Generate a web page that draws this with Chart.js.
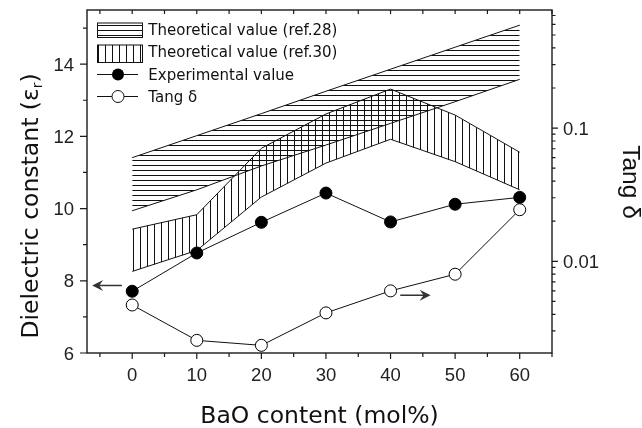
<!DOCTYPE html>
<html>
<head>
<meta charset="utf-8">
<script src="https://cdn.jsdelivr.net/npm/chart.js@4"></script>
<style>
    body { margin: 0; background: #fff; }
    #wrap { width: 642px; height: 428px; }
</style>
</head>
<body>
<div id="wrap"><canvas id="dielectricChart" width="642" height="428"></canvas></div>
<script>
// Chart data
const baoContent = [0, 10, 20, 30, 40, 50, 60];
const experimental = [7.71, 8.77, 9.62, 10.43, 9.63, 10.12, 10.31];
const tangDelta = [0.0047, 0.00255, 0.00234, 0.0041, 0.0060, 0.0080, 0.0244];
const ref28Lower = [9.94, 10.52, 11.18, 11.76, 12.36, 12.96, 13.58];
const ref28Upper = [11.41, 12.02, 12.63, 13.25, 13.86, 14.47, 15.08];
const ref30Lower = [8.26, 8.84, 10.32, 11.26, 11.92, 11.30, 10.52];
const ref30Upper = [9.43, 9.83, 11.67, 12.62, 13.31, 12.59, 11.56];

const xTickLabels = [0, 10, 20, 30, 40, 50, 60];
const leftTickLabels = [6, 8, 10, 12, 14];
const rightTickLabels = ['0.01', '0.1'];

const legendLabels = [
    'Theoretical value (ref.28)',
    'Theoretical value (ref.30)',
    'Experimental value',
    'Tang \u03B4'
];

const pts = arr => baoContent.map((x, i) => ({ x: x, y: arr[i] }));

// hatch patterns
function makeHatch(vertical) {
    const c = document.createElement('canvas');
    c.width = vertical ? 7 : 8;
    c.height = vertical ? 8 : 5;
    const g = c.getContext('2d');
    g.strokeStyle = '#111';
    g.lineWidth = 1;
    g.beginPath();
    if (vertical) {
        g.moveTo(0.5, 0); g.lineTo(0.5, c.height);
    } else {
        g.moveTo(0, 0.5); g.lineTo(c.width, 0.5);
    }
    g.stroke();
    return g.createPattern(c, 'repeat');
}
const hHatch = makeHatch(false);
const vHatch = makeHatch(true);

const SANS = '"DejaVu Sans", sans-serif';
const ARIAL = '"Liberation Sans", Arial, sans-serif';

function arrow(ctx, x1, y1, x2, y2) {
    const dir = Math.sign(x2 - x1);
    ctx.beginPath();
    ctx.moveTo(x1, y1);
    ctx.lineTo(x2 - dir * 4, y2);
    ctx.stroke();
    ctx.beginPath();
    ctx.moveTo(x2, y2);
    ctx.lineTo(x2 - dir * 11, y2 - 5.5);
    ctx.lineTo(x2 - dir * 7, y2);
    ctx.lineTo(x2 - dir * 11, y2 + 5.5);
    ctx.closePath();
    ctx.fill();
}

// axes, ticks, titles, legend
const decorations = {
    id: 'decorations',
    afterDraw(chart) {
        const { ctx, chartArea: a, scales } = chart;
        const x = scales.x, y = scales.y, y2 = scales.y2;
        ctx.save();
        ctx.strokeStyle = '#1a1a1a';
        ctx.fillStyle = '#1a1a1a';
        ctx.lineWidth = 1.4;
        ctx.strokeRect(a.left, a.top, a.right - a.left, a.bottom - a.top);

        ctx.lineWidth = 1.2;
        ctx.beginPath();
        // x ticks (bottom outward, top inward)
        for (let v = -5; v <= 65; v += 5) {
            const px = x.getPixelForValue(v);
            const len = v % 10 === 0 ? 6 : 4;
            ctx.moveTo(px, a.bottom); ctx.lineTo(px, a.bottom + len);
            ctx.moveTo(px, a.top); ctx.lineTo(px, a.top + 4);
        }
        // left ticks
        for (let v = 6; v <= 15; v++) {
            const py = y.getPixelForValue(v);
            const len = v % 2 === 0 ? 7 : 4;
            ctx.moveTo(a.left, py); ctx.lineTo(a.left - len, py);
        }
        // right log ticks
        for (let e = -3; e <= -1; e++) {
            for (let m = 1; m <= 9; m++) {
                const v = m * Math.pow(10, e);
                if (v < y2.min || v > y2.max) continue;
                const py = y2.getPixelForValue(v);
                const len = m === 1 ? 6 : 3.5;
                ctx.moveTo(a.right, py); ctx.lineTo(a.right + len, py);
            }
        }
        ctx.stroke();

        // tick labels
        ctx.fillStyle = '#222';
        ctx.font = '18.5px ' + ARIAL;
        ctx.textBaseline = 'alphabetic';
        ctx.textAlign = 'center';
        xTickLabels.forEach(v => ctx.fillText(String(v), x.getPixelForValue(v), a.bottom + 27.5));
        ctx.textAlign = 'right';
        leftTickLabels.forEach(v => ctx.fillText(String(v), a.left - 13, y.getPixelForValue(v) + 6.6));
        ctx.textAlign = 'left';
        rightTickLabels.forEach(t => ctx.fillText(t, a.right + 11, y2.getPixelForValue(parseFloat(t)) + 6.6));

        // axis titles
        ctx.fillStyle = '#111';
        ctx.font = '23.5px ' + SANS;
        ctx.textAlign = 'center';
        ctx.fillText('BaO content (mol%)', (a.left + a.right) / 2, 423.3);

        // left title with subscript
        ctx.save();
        ctx.translate(37.7, 206);
        ctx.rotate(-Math.PI / 2);
        const main = 'Dielectric constant (\u03B5';
        const subFont = '14px ' + SANS;
        const mainW = ctx.measureText(main).width;
        ctx.font = subFont;
        const subW = ctx.measureText('r').width;
        ctx.font = '23.5px ' + SANS;
        const closeW = ctx.measureText(')').width;
        let sx = -(mainW + subW + closeW) / 2;
        ctx.textAlign = 'left';
        ctx.fillText(main, sx, 0);
        sx += mainW;
        ctx.font = subFont;
        ctx.fillText('r', sx, 4);
        sx += subW;
        ctx.font = '23.5px ' + SANS;
        ctx.fillText(')', sx, 0);
        ctx.restore();

        // right title
        ctx.save();
        ctx.translate(622.5, 182);
        ctx.rotate(Math.PI / 2);
        ctx.font = '24.5px ' + ARIAL;
        ctx.textAlign = 'center';
        ctx.fillText('Tang \u03B4', 0, 0);
        ctx.restore();

        // arrows pointing to the axes
        ctx.strokeStyle = '#333';
        ctx.fillStyle = '#333';
        ctx.lineWidth = 1.5;
        arrow(ctx, x.getPixelForValue(-1.6), y.getPixelForValue(7.87), x.getPixelForValue(-6.2), y.getPixelForValue(7.87));
        arrow(ctx, x.getPixelForValue(41.5), y.getPixelForValue(7.6), x.getPixelForValue(46.2), y.getPixelForValue(7.6));

        // legend
        ctx.lineWidth = 1;
        ctx.strokeStyle = '#111';
        ctx.fillStyle = hHatch;
        ctx.fillRect(97.5, 23, 45, 14.5);
        ctx.strokeRect(97.5, 23, 45, 14.5);
        ctx.fillStyle = vHatch;
        ctx.fillRect(97.5, 45, 45, 17.5);
        ctx.strokeRect(97.5, 45, 45, 17.5);

        ctx.beginPath();
        ctx.moveTo(97, 74.5); ctx.lineTo(138, 74.5);
        ctx.moveTo(97, 96.5); ctx.lineTo(138, 96.5);
        ctx.stroke();
        ctx.fillStyle = '#000';
        ctx.beginPath(); ctx.arc(118, 74.5, 6, 0, Math.PI * 2); ctx.fill();
        ctx.fillStyle = '#fff';
        ctx.beginPath(); ctx.arc(118, 96.5, 6, 0, Math.PI * 2); ctx.fill(); ctx.stroke();

        ctx.fillStyle = '#111';
        ctx.font = '15px ' + SANS;
        ctx.textAlign = 'left';
        const baselines = [35, 56.7, 80, 101.7];
        legendLabels.forEach((t, i) => ctx.fillText(t, 148.3, baselines[i]));
        ctx.restore();
    }
};

const bandLine = {
    borderColor: '#111',
    borderWidth: 1,
    pointRadius: 0,
    tension: 0,
    yAxisID: 'y',
    order: 5
};

new Chart(document.getElementById('dielectricChart'), {
    type: 'line',
    data: {
        datasets: [
            { ...bandLine, data: pts(ref28Lower), fill: false },
            { ...bandLine, data: pts(ref28Upper), fill: '-1', backgroundColor: hHatch },
            { ...bandLine, data: pts(ref30Lower), fill: false },
            { ...bandLine, data: pts(ref30Upper), fill: '-1', backgroundColor: vHatch },
            {
                data: pts(experimental),
                yAxisID: 'y',
                borderColor: '#111',
                borderWidth: 1,
                pointRadius: 6,
                pointBackgroundColor: '#000',
                pointBorderColor: '#000',
                pointBorderWidth: 1,
                tension: 0,
                fill: false,
                order: 2
            },
            {
                data: pts(tangDelta),
                yAxisID: 'y2',
                borderColor: '#111',
                borderWidth: 1,
                pointRadius: 6,
                pointBackgroundColor: '#fff',
                pointBorderColor: '#000',
                pointBorderWidth: 1,
                tension: 0,
                fill: false,
                order: 1
            }
        ]
    },
    options: {
        responsive: false,
        animation: false,
        events: [],
        layout: { padding: { left: 87, top: 10, right: 90, bottom: 75 } },
        scales: {
            x: { type: 'linear', min: -7, max: 65, display: false },
            y: { type: 'linear', min: 6, max: 15.5, display: false },
            y2: { type: 'logarithmic', min: 0.00205, max: 0.77, display: false }
        },
        plugins: {
            legend: { display: false },
            tooltip: { enabled: false },
            filler: { drawTime: 'beforeDatasetsDraw' }
        }
    },
    plugins: [decorations]
});
</script>
</body>
</html>
